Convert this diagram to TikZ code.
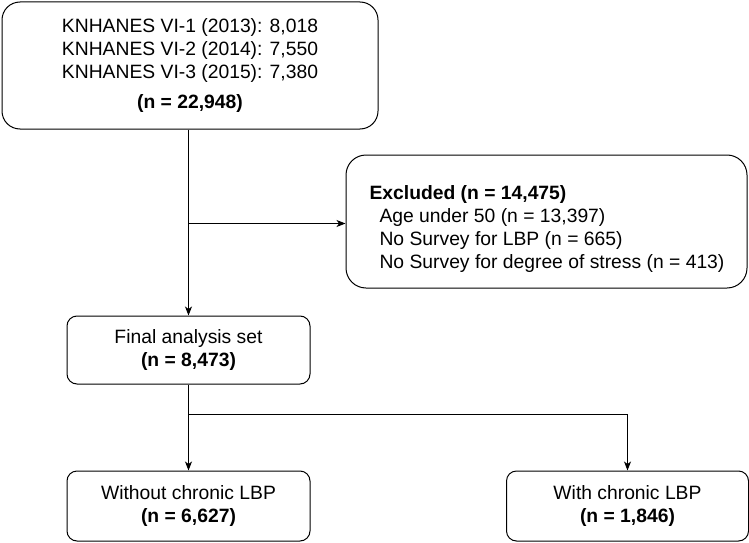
\documentclass[tikz,border=0pt]{standalone}
\usepackage{fontspec}
\setmainfont{Liberation Sans}
\usetikzlibrary{arrows.meta}
\begin{document}
\begin{tikzpicture}[x=1pt,y=-1pt,
  every node/.style={font=\fontsize{19.3}{23}\selectfont},
  box/.style={draw, line width=1pt, align=center, inner sep=0pt},
  txt/.style={align=left, inner sep=0pt},
  conn/.style={line width=1pt},
  arr/.style={conn, -{Stealth[length=9pt,width=7pt,inset=2.5pt]}}]
\useasboundingbox (0,0) rectangle (749,543);
% boxes
\node[box, rounded corners=18pt, minimum width=376pt, minimum height=127pt] (top) at (190,65.5)
  {KNHANES VI-1 (2013): 8,018\\KNHANES VI-2 (2014): 7,550\\KNHANES VI-3 (2015): 7,380\\[7pt]\textbf{(n = 22,948)}};
\node[box, rounded corners=20pt, minimum width=401pt, minimum height=133pt] (excl) at (546.5,221.5) {};
\node[txt] (excltext) at (547,229.5)
  {\textbf{Excluded (n = 14,475)}\\
   \hspace*{10pt}Age under 50 (n = 13,397)\\
   \hspace*{10pt}No Survey for LBP (n = 665)\\
   \hspace*{10pt}No Survey for degree of stress (n = 413)};
\node[box, rounded corners=10pt, minimum width=243pt, minimum height=68pt] (final) at (188.5,350)
  {Final analysis set\\\textbf{(n = 8,473)}};
\node[box, rounded corners=10pt, minimum width=243pt, minimum height=70pt] (without) at (188.5,506)
  {Without chronic LBP\\\textbf{(n = 6,627)}};
\node[box, rounded corners=10pt, minimum width=242pt, minimum height=70pt] (with) at (627.5,506)
  {With chronic LBP\\\textbf{(n = 1,846)}};
% connectors
\draw[arr] (top.south -| final.north) -- (final.north);
\coordinate (j1) at (188.5,223.5);
\draw[arr] (j1) -- (j1 -| excl.west);
\draw[arr] (final.south) -- (without.north);
\coordinate (j2) at (188.5,414.5);
\draw[arr] (j2) -| (with.north);
\end{tikzpicture}
\end{document}
